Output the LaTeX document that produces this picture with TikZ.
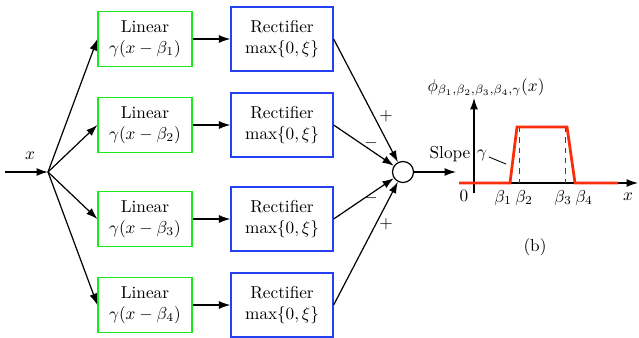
\documentclass[tikz,border=0pt]{standalone}
\usetikzlibrary{arrows.meta}
\definecolor{lingreen}{RGB}{25,235,25}
\definecolor{recblue}{RGB}{35,65,240}
\definecolor{curvered}{RGB}{250,45,10}
\begin{document}
\begin{tikzpicture}[x=0.58pt,y=-0.58pt,
  >={Latex[length=6.6pt,width=4.6pt]},
  conn/.style={->,line width=0.7pt},
  linbox/.style={draw=lingreen,line width=0.7pt,minimum width=54.5pt,minimum height=31.9pt,inner sep=0pt,align=center},
  recbox/.style={draw=recblue,line width=0.7pt,minimum width=59.2pt,minimum height=37.1pt,inner sep=0pt,align=center},
  lbl/.style={inner sep=1pt}]
\useasboundingbox (0,0) rectangle (639,338);

% input and branch point
\coordinate (in) at (5,172);
\coordinate (br) at (48,172);
\node[lbl] (xlab) at (30,156) {$x$};
\draw[conn] (in) -- (br);

% linear stages
\node[linbox] (lin1) at (145,39)  {Linear\\$\gamma(x-\beta_1)$};
\node[linbox] (lin2) at (145,125) {Linear\\$\gamma(x-\beta_2)$};
\node[linbox] (lin3) at (145,219) {Linear\\$\gamma(x-\beta_3)$};
\node[linbox] (lin4) at (145,305) {Linear\\$\gamma(x-\beta_4)$};

% rectifier stages
\node[recbox] (rec1) at (282,39)  {Rectifier\\$\max\{0,\xi\}$};
\node[recbox] (rec2) at (282,125) {Rectifier\\$\max\{0,\xi\}$};
\node[recbox] (rec3) at (282,219) {Rectifier\\$\max\{0,\xi\}$};
\node[recbox] (rec4) at (282,305) {Rectifier\\$\max\{0,\xi\}$};

% summing junction
\node[draw,circle,line width=0.7pt,minimum size=12.2pt,inner sep=0pt] (sum) at (403,172) {};
\coordinate (out) at (456,172);

\foreach \i in {1,2,3,4}{
  \draw[conn] (br) -- (lin\i.west);
  \draw[conn] (lin\i.east) -- (rec\i.west);
  \draw[conn] (rec\i.east) -- (sum);
}
\draw[conn] (sum) -- (out);

% signs
\node[lbl] (s1) at (386,116) {$+$};
\node[lbl] (s2) at (371,143) {$-$};
\node[lbl] (s3) at (371,198) {$-$};
\node[lbl] (s4) at (386,224) {$+$};

% plot of the resulting bump function
\coordinate (o) at (474,183);
\coordinate (yb) at (474,193);
\coordinate (yt) at (474,98);
\coordinate (xl) at (459,183);
\coordinate (xr) at (638,183);
\draw[conn] (yb) -- (yt);
\draw[conn] (xl) -- (xr);

\coordinate (p0) at (459,183);
\coordinate (p1) at (510,183);
\coordinate (p2) at (517,127);
\coordinate (p3) at (567,127);
\coordinate (p4) at (575,183);
\coordinate (p5) at (618,183);
\coordinate (d2) at (519,183);
\coordinate (d3) at (565,183);
\coordinate (d2t) at (519,127);
\coordinate (d3t) at (565,127);
\draw[dashed,line width=0.5pt,black!75] (d2t) -- (d2);
\draw[dashed,line width=0.5pt,black!75] (d3t) -- (d3);
\draw[curvered,line width=1.6pt] (p0) -- (p1) -- (p2) -- (p3) -- (p4) -- (p5);

\node[lbl] (phi) at (486,87) {$\phi_{\beta_1,\beta_2,\beta_3,\beta_4,\gamma}(x)$};
\node[lbl] (slope) at (450,154) {Slope};
\node[lbl] (gam) at (482,155) {$\gamma$};
\coordinate (g1) at (489,157);
\coordinate (g2) at (506,164);
\draw[line width=0.5pt] (g1) -- (g2);

\node[lbl] (zero) at (464,196) {$0$};
\node[lbl] (b1) at (503,198) {$\beta_1$};
\node[lbl] (b2) at (524,198) {$\beta_2$};
\node[lbl] (b3) at (563,198) {$\beta_3$};
\node[lbl] (b4) at (584,198) {$\beta_4$};
\node[lbl] (xax) at (628,197) {$x$};
\node[lbl] (cap) at (535,247) {(b)};
\end{tikzpicture}
\end{document}
